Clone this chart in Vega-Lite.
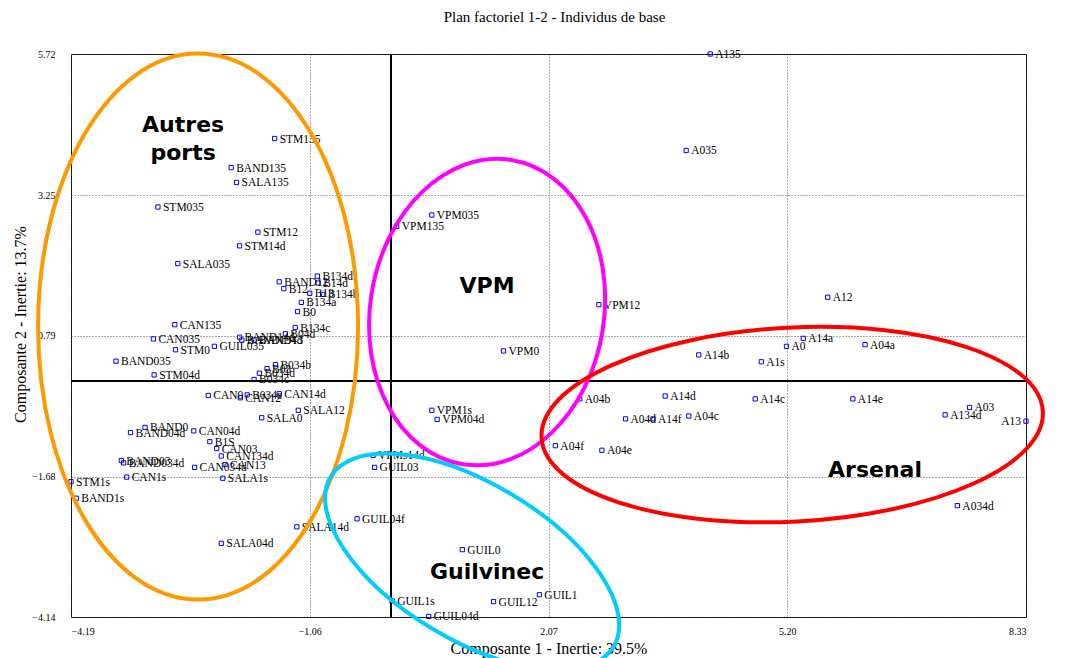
{
  "$schema": "https://vega.github.io/schema/vega-lite/v6.json",
  "width": 955,
  "height": 563,
  "autosize": "none",
  "padding": {"left": 71, "top": 54, "right": 41, "bottom": 41},
  "background": "white",
  "title": {"text": "Plan factoriel 1-2 - Individus de base", "font": "Liberation Serif", "fontSize": 15, "fontWeight": "normal", "color": "#000", "offset": 21, "dx": 6},
  "config": {
    "view": {"stroke": "#000", "strokeWidth": 1},
    "axis": {"labelFont": "Liberation Serif", "titleFont": "Liberation Serif", "labelColor": "#000", "titleColor": "#000", "titleFontWeight": "normal", "titleFontSize": 16, "labelFontSize": 10, "ticks": false, "domain": false, "grid": true, "gridDash": [1, 2], "gridColor": "#555", "gridWidth": 1}
  },
  "datasets": {
    "pts": [
      {"name": "A135", "c1": 4.19, "c2": 5.72},
      {"name": "A035", "c1": 3.875, "c2": 4.03},
      {"name": "STM135", "c1": -1.52, "c2": 4.24},
      {"name": "BAND135", "c1": -2.09, "c2": 3.73},
      {"name": "SALA135", "c1": -2.02, "c2": 3.47},
      {"name": "STM035", "c1": -3.05, "c2": 3.04},
      {"name": "VPM035", "c1": 0.54, "c2": 2.90},
      {"name": "VPM135", "c1": 0.08, "c2": 2.70},
      {"name": "STM12", "c1": -1.74, "c2": 2.60},
      {"name": "STM14d", "c1": -1.98, "c2": 2.36},
      {"name": "SALA035", "c1": -2.79, "c2": 2.05},
      {"name": "B134d", "c1": -0.96, "c2": 1.83},
      {"name": "BAND12", "c1": -1.46, "c2": 1.73},
      {"name": "B14d", "c1": -0.95, "c2": 1.71},
      {"name": "B12", "c1": -1.40, "c2": 1.61},
      {"name": "B13", "c1": -1.06, "c2": 1.53},
      {"name": "B134b", "c1": -0.89, "c2": 1.51},
      {"name": "A12", "c1": 5.73, "c2": 1.46},
      {"name": "B134a", "c1": -1.17, "c2": 1.37},
      {"name": "VPM12", "c1": 2.73, "c2": 1.33},
      {"name": "B0", "c1": -1.22, "c2": 1.21},
      {"name": "CAN135", "c1": -2.83, "c2": 0.98},
      {"name": "B134c", "c1": -1.25, "c2": 0.93},
      {"name": "B04d", "c1": -1.38, "c2": 0.82},
      {"name": "BAND14d", "c1": -1.98, "c2": 0.76},
      {"name": "BAND134d", "c1": -1.95, "c2": 0.71},
      {"name": "BAND13", "c1": -1.79, "c2": 0.71},
      {"name": "A14a", "c1": 5.41, "c2": 0.74},
      {"name": "CAN035", "c1": -3.11, "c2": 0.73},
      {"name": "A04a", "c1": 6.22, "c2": 0.63},
      {"name": "A0", "c1": 5.19, "c2": 0.60},
      {"name": "GUIL035", "c1": -2.31, "c2": 0.60},
      {"name": "STM0", "c1": -2.82, "c2": 0.54},
      {"name": "VPM0", "c1": 1.48, "c2": 0.52},
      {"name": "A14b", "c1": 4.04, "c2": 0.45},
      {"name": "BAND035", "c1": -3.60, "c2": 0.34},
      {"name": "A1s", "c1": 4.86, "c2": 0.33},
      {"name": "B034b", "c1": -1.51, "c2": 0.28},
      {"name": "B03", "c1": -1.62, "c2": 0.21},
      {"name": "B034d", "c1": -1.72, "c2": 0.13},
      {"name": "STM04d", "c1": -3.10, "c2": 0.10},
      {"name": "B034c", "c1": -1.79, "c2": 0.02},
      {"name": "CAN14d", "c1": -1.46, "c2": -0.23},
      {"name": "B034a", "c1": -1.88, "c2": -0.25},
      {"name": "CAN0", "c1": -2.39, "c2": -0.26},
      {"name": "CAN12", "c1": -1.97, "c2": -0.30},
      {"name": "A14d", "c1": 3.60, "c2": -0.27},
      {"name": "A04b", "c1": 2.48, "c2": -0.32},
      {"name": "A14c", "c1": 4.78, "c2": -0.32},
      {"name": "A14e", "c1": 6.06, "c2": -0.32},
      {"name": "A03", "c1": 7.59, "c2": -0.47},
      {"name": "SALA12", "c1": -1.21, "c2": -0.52},
      {"name": "VPM1s", "c1": 0.54, "c2": -0.52},
      {"name": "A134d", "c1": 7.27, "c2": -0.60},
      {"name": "A04c", "c1": 3.91, "c2": -0.62},
      {"name": "SALA0", "c1": -1.69, "c2": -0.65},
      {"name": "A04d", "c1": 3.08, "c2": -0.67},
      {"name": "A14f", "c1": 3.44, "c2": -0.67},
      {"name": "VPM04d", "c1": 0.61, "c2": -0.68},
      {"name": "A13", "c1": 8.33, "c2": -0.71},
      {"name": "BAND0", "c1": -3.22, "c2": -0.82},
      {"name": "CAN04d", "c1": -2.58, "c2": -0.88},
      {"name": "BAND04d", "c1": -3.41, "c2": -0.91},
      {"name": "B1S", "c1": -2.37, "c2": -1.07},
      {"name": "A04f", "c1": 2.16, "c2": -1.14},
      {"name": "CAN03", "c1": -2.28, "c2": -1.19},
      {"name": "A04e", "c1": 2.77, "c2": -1.22},
      {"name": "VPMs14d", "c1": -0.23, "c2": -1.31},
      {"name": "CAN134d", "c1": -2.22, "c2": -1.32},
      {"name": "BAND03", "c1": -3.53, "c2": -1.40},
      {"name": "BAND034d", "c1": -3.50, "c2": -1.44},
      {"name": "CAN13", "c1": -2.17, "c2": -1.47},
      {"name": "CAN034d", "c1": -2.57, "c2": -1.52},
      {"name": "GUIL03", "c1": -0.21, "c2": -1.52},
      {"name": "CAN1s", "c1": -3.46, "c2": -1.69},
      {"name": "SALA1s", "c1": -2.20, "c2": -1.71},
      {"name": "STM1s", "c1": -4.19, "c2": -1.77},
      {"name": "BAND1s", "c1": -4.12, "c2": -2.06},
      {"name": "A034d", "c1": 7.43, "c2": -2.19},
      {"name": "GUIL04f", "c1": -0.44, "c2": -2.42},
      {"name": "SALA14d", "c1": -1.23, "c2": -2.56},
      {"name": "SALA04d", "c1": -2.22, "c2": -2.85},
      {"name": "GUIL0", "c1": 0.94, "c2": -2.96},
      {"name": "GUIL1", "c1": 1.95, "c2": -3.75},
      {"name": "GUIL1s", "c1": 0.02, "c2": -3.86},
      {"name": "GUIL12", "c1": 1.35, "c2": -3.87},
      {"name": "GUIL04d", "c1": 0.50, "c2": -4.13}
    ],
    "groups": [
      {"group": "Autres\nports", "c1": -2.524, "c2": 0.946, "tx": -2.72, "ty": 4.47},
      {"group": "VPM", "c1": 1.265, "c2": 1.20, "tx": 1.265, "ty": 1.65},
      {"group": "Arsenal", "c1": 5.265, "c2": -0.77, "tx": 6.35, "ty": -1.56},
      {"group": "Guilvinec", "c1": 1.069, "c2": -3.17, "tx": 1.265, "ty": -3.35}
    ]
  },
  "layer": [
    {
      "data": {"name": "pts"},
      "mark": {"type": "point", "shape": "square", "size": 18, "filled": false, "color": "#0000FF", "strokeWidth": 1, "opacity": 1},
      "encoding": {
        "x": {"field": "c1", "type": "quantitative", "scale": {"domain": [-4.19, 8.33], "nice": false, "zero": false},
          "axis": {"values": [-4.19, -1.06, 2.07, 5.20, 8.33], "format": ".2f", "labelFlush": true, "labelPadding": 9, "title": "Composante 1 - Inertie: 39.5%", "titleY": 31, "titleBaseline": "middle"}},
        "y": {"field": "c2", "type": "quantitative", "scale": {"domain": [-4.14, 5.72], "nice": false, "zero": false},
          "axis": {"values": [-4.14, -1.68, 0.79, 3.25, 5.72], "format": ".2f", "labelFlush": false, "labelPadding": 16, "title": "Composante 2 - Inertie: 13.7%", "titleX": -51, "titleY": 270, "titleAngle": -90, "titleAlign": "center", "titleBaseline": "middle"}}
      }
    },
    {
      "data": {"name": "pts"},
      "mark": {"type": "rule", "color": "#000", "strokeWidth": 1},
      "encoding": {"x": {"datum": 0, "type": "quantitative"}}
    },
    {
      "data": {"name": "pts"},
      "mark": {"type": "rule", "color": "#000", "strokeWidth": 1},
      "encoding": {"y": {"datum": 0, "type": "quantitative"}}
    },
    {
      "data": {"name": "pts"},
      "transform": [{"filter": "datum.name != 'A13'"}],
      "mark": {"type": "text", "align": "left", "baseline": "middle", "dx": 5, "dy": 1, "font": "Liberation Serif", "fontSize": 11.5, "color": "#000"},
      "encoding": {
        "x": {"field": "c1", "type": "quantitative"},
        "y": {"field": "c2", "type": "quantitative"},
        "text": {"field": "name"}
      }
    },
    {
      "data": {"name": "pts"},
      "transform": [{"filter": "datum.name == 'A13'"}],
      "mark": {"type": "text", "align": "right", "baseline": "middle", "dx": -5, "dy": 1, "font": "Liberation Serif", "fontSize": 11.5, "color": "#000"},
      "encoding": {
        "x": {"field": "c1", "type": "quantitative"},
        "y": {"field": "c2", "type": "quantitative"},
        "text": {"field": "name"}
      }
    },
    {
      "data": {"name": "groups"},
      "transform": [{"filter": "datum.group == 'Autres\\nports'"}],
      "mark": {"type": "point", "shape": "M -160 0 A 160 273 0 1 0 160 0 A 160 273 0 1 0 -160 0 Z", "size": 4, "filled": false, "color": "#FF9900", "strokeWidth": 4, "opacity": 1},
      "encoding": {"x": {"field": "c1", "type": "quantitative"}, "y": {"field": "c2", "type": "quantitative"}}
    },
    {
      "data": {"name": "groups"},
      "transform": [{"filter": "datum.group == 'VPM'"}],
      "mark": {"type": "point", "shape": "M -117 0 A 117 154 0 1 0 117 0 A 117 154 0 1 0 -117 0 Z", "size": 4, "filled": false, "color": "#FF00FF", "strokeWidth": 4, "opacity": 1, "angle": 9},
      "encoding": {"x": {"field": "c1", "type": "quantitative"}, "y": {"field": "c2", "type": "quantitative"}}
    },
    {
      "data": {"name": "groups"},
      "transform": [{"filter": "datum.group == 'Arsenal'"}],
      "mark": {"type": "point", "shape": "M -251 0 A 251 97 0 1 0 251 0 A 251 97 0 1 0 -251 0 Z", "size": 4, "filled": false, "color": "#FF0000", "strokeWidth": 4, "opacity": 1, "angle": -3},
      "encoding": {"x": {"field": "c1", "type": "quantitative"}, "y": {"field": "c2", "type": "quantitative"}}
    },
    {
      "data": {"name": "groups"},
      "transform": [{"filter": "datum.group == 'Guilvinec'"}],
      "mark": {"type": "point", "shape": "M -165 0 A 165 78 0 1 0 165 0 A 165 78 0 1 0 -165 0 Z", "size": 4, "filled": false, "color": "#00CCFF", "strokeWidth": 4, "opacity": 1, "angle": 31},
      "encoding": {"x": {"field": "c1", "type": "quantitative"}, "y": {"field": "c2", "type": "quantitative"}}
    },
    {
      "data": {"name": "groups"},
      "mark": {"type": "text", "align": "center", "baseline": "middle", "font": "DejaVu Sans", "fontWeight": "bold", "fontSize": 22, "lineBreak": "\n", "lineHeight": 28, "color": "#000"},
      "encoding": {
        "x": {"field": "tx", "type": "quantitative"},
        "y": {"field": "ty", "type": "quantitative"},
        "text": {"field": "group"}
      }
    }
  ]
}
